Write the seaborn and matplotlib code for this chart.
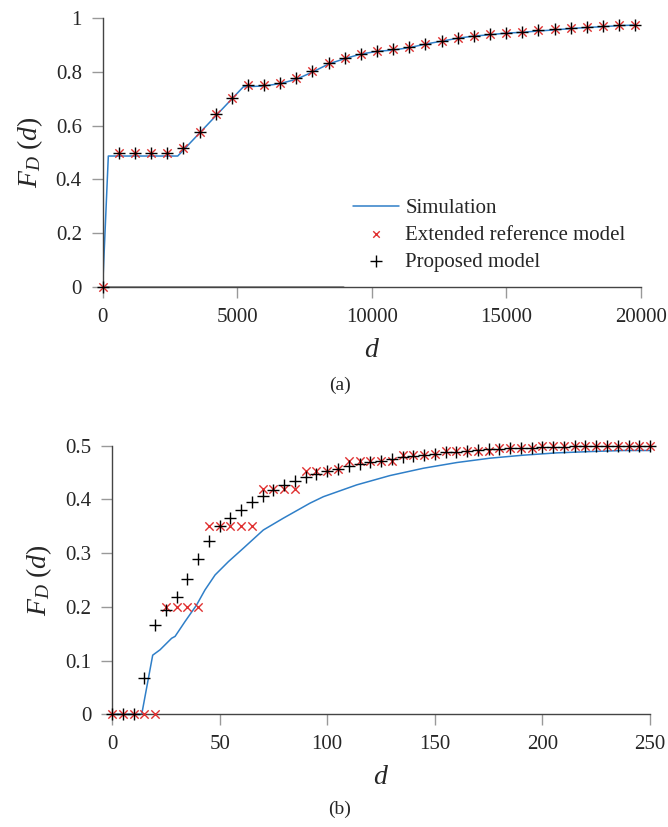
import matplotlib
matplotlib.use("Agg")
import matplotlib.pyplot as plt
import seaborn as sns

# (a) long range
d_a = [0, 600, 1200, 1800, 2400, 3000, 3600, 4200, 4800, 5400, 6000, 6600,
       7200, 7800, 8400, 9000, 9600, 10200, 10800, 11400, 12000, 12600,
       13200, 13800, 14400, 15000, 15600, 16200, 16800, 17400, 18000,
       18600, 19200, 19800]
ext_a = [0, 0.499, 0.5, 0.5, 0.5, 0.516, 0.578, 0.642, 0.704, 0.750, 0.750,
         0.760, 0.776, 0.802, 0.832, 0.853, 0.869, 0.879, 0.884, 0.893,
         0.906, 0.917, 0.928, 0.936, 0.941, 0.947, 0.950, 0.955, 0.959,
         0.964, 0.968, 0.971, 0.975, 0.976]
prop_a = ext_a
sim_d_a = [0, 210, 2790, 5230, 6000, 6600, 7200, 7800, 8400, 9000, 9600,
           10200, 10800, 11400, 12000, 12600, 13200, 13800, 14400, 15000,
           15600, 16200, 16800, 17400, 18000, 18600, 19200, 19800]
sim_a = [0, 0.487, 0.487, 0.745, 0.748, 0.757, 0.773, 0.800, 0.830, 0.850,
         0.867, 0.877, 0.882, 0.891, 0.904, 0.915, 0.926, 0.934, 0.939,
         0.945, 0.948, 0.953, 0.957, 0.962, 0.966, 0.969, 0.973, 0.975]
zero_seg_d = [0, 8950]

# (b) short range
d_b = [0, 5, 10, 15, 20, 25, 30, 35, 40, 45, 50, 55, 60, 65, 70, 75, 80, 85,
       90, 95, 100, 105, 110, 115, 120, 125, 130, 135, 140, 145, 150, 155,
       160, 165, 170, 175, 180, 185, 190, 195, 200, 205, 210, 215, 220, 225,
       230, 235, 240, 245, 250]
ext_b = [0, 0, 0, 0, 0, 0.2, 0.2, 0.2, 0.2, 0.35, 0.35, 0.35, 0.35, 0.35,
         0.42, 0.42, 0.42, 0.42, 0.453, 0.453, 0.453, 0.456, 0.472, 0.472,
         0.471, 0.471, 0.472, 0.483, 0.483, 0.483, 0.484, 0.49, 0.49, 0.49,
         0.49, 0.49, 0.495, 0.495, 0.495, 0.495, 0.499, 0.5, 0.5, 0.5, 0.5,
         0.5, 0.5, 0.5, 0.5, 0.5, 0.5]
prop_b = [0, 0, 0, 0.067, 0.166, 0.194, 0.218, 0.252, 0.289, 0.323, 0.351,
          0.365, 0.381, 0.395, 0.406, 0.418, 0.427, 0.434, 0.441, 0.447,
          0.452, 0.457, 0.462, 0.466, 0.469, 0.471, 0.475, 0.479, 0.481,
          0.483, 0.485, 0.488, 0.489, 0.490, 0.492, 0.493, 0.494, 0.495,
          0.496, 0.4965, 0.497, 0.4977, 0.4983, 0.499, 0.499, 0.4995, 0.5,
          0.5, 0.5, 0.5, 0.5]
sim_d_b = [0, 13.8, 18.9, 22.3, 27.7, 29.3, 33.9, 39.3, 43.2, 47.9, 54.1,
           61.0, 70.3, 79.6, 92.0, 98.2, 113.7, 129.2, 144.7, 160.2, 175.6,
           191.1, 206.6, 222.1, 237.6, 249.7]
sim_b = [0, 0, 0.110, 0.120, 0.1415, 0.145, 0.1725, 0.2035, 0.2315, 0.2594,
         0.2842, 0.309, 0.343, 0.365, 0.393, 0.405, 0.427, 0.4444, 0.458,
         0.4686, 0.4767, 0.4823, 0.4866, 0.489, 0.491, 0.491]

sns.set_theme(style="white")
plt.rcParams['font.family'] = ['Liberation Serif', 'DejaVu Serif']
plt.rcParams['mathtext.fontset'] = 'custom'
plt.rcParams['mathtext.rm'] = 'Liberation Serif'
plt.rcParams['mathtext.it'] = 'Liberation Serif:italic'

BLUE = "#2f7fc8"
RED = "#e03030"
SPINE = "#444444"
TICK = "#999999"

fig = plt.figure(figsize=(6.68, 8.27), dpi=100)
ax1 = fig.add_axes([0.1537, 0.6533, 0.8054, 0.3245])
ax2 = fig.add_axes([0.1677, 0.1363, 0.8054, 0.3248])


def draw(ax, sd, sv, d, ext, prop):
    sns.lineplot(x=sd, y=sv, ax=ax, color=BLUE, linewidth=1.1, sort=False,
                 label="Simulation")
    sns.scatterplot(x=d, y=ext, ax=ax, marker="x", color=RED, s=36,
                    linewidth=1.0, label="Extended reference model", zorder=3)
    sns.scatterplot(x=d, y=prop, ax=ax, marker="+", color="black", s=70,
                    linewidth=1.0, label="Proposed model", zorder=4)
    for side in ["top", "right"]:
        ax.spines[side].set_visible(False)
    for side in ["left", "bottom"]:
        ax.spines[side].set_color(SPINE)
        ax.spines[side].set_linewidth(1.0)
    ax.tick_params(axis="both", direction="out", length=8, width=1.0,
                   color=TICK, labelsize=15, pad=7, left=True, bottom=True)
    ax.set_xlabel(r"$d$", fontsize=20, labelpad=8)
    ax.set_ylabel(r"$F_D\ (d)$", fontsize=20, labelpad=8)


draw(ax1, sim_d_a, sim_a, d_a, ext_a, prop_a)
sns.lineplot(x=zero_seg_d, y=[0, 0], ax=ax1, color="#777777", linewidth=1.8,
             zorder=1)
ax1.set_xlim(0, 20000)
ax1.set_ylim(0, 1)
ax1.set_xticks([0, 5000, 10000, 15000, 20000])
ax1.set_yticks([0, 0.2, 0.4, 0.6, 0.8, 1])
ax1.set_yticklabels(["0", "0.2", "0.4", "0.6", "0.8", "1"])
leg = ax1.legend(loc="upper left", bbox_to_anchor=(0.45, 0.36), frameon=False,
                 fontsize=15, handlelength=2.2, handletextpad=0.3,
                 labelspacing=0.35, borderaxespad=0)
leg.legend_handles[1].set_sizes([22])

draw(ax2, sim_d_b, sim_b, d_b, ext_b, prop_b)
ax2.set_xlim(0, 250)
ax2.set_ylim(0, 0.5)
ax2.set_xticks([0, 50, 100, 150, 200, 250])
ax2.set_yticks([0, 0.1, 0.2, 0.3, 0.4, 0.5])
ax2.set_yticklabels(["0", "0.1", "0.2", "0.3", "0.4", "0.5"])
ax2.get_legend().remove()

for a in (ax1, ax2):
    for c in a.collections:
        c.set_clip_on(False)

fig.text(0.509, 0.534, "(a)", ha="center", va="center", fontsize=14)
fig.text(0.509, 0.021, "(b)", ha="center", va="center", fontsize=14)

fig.savefig("out.png", dpi=100)
